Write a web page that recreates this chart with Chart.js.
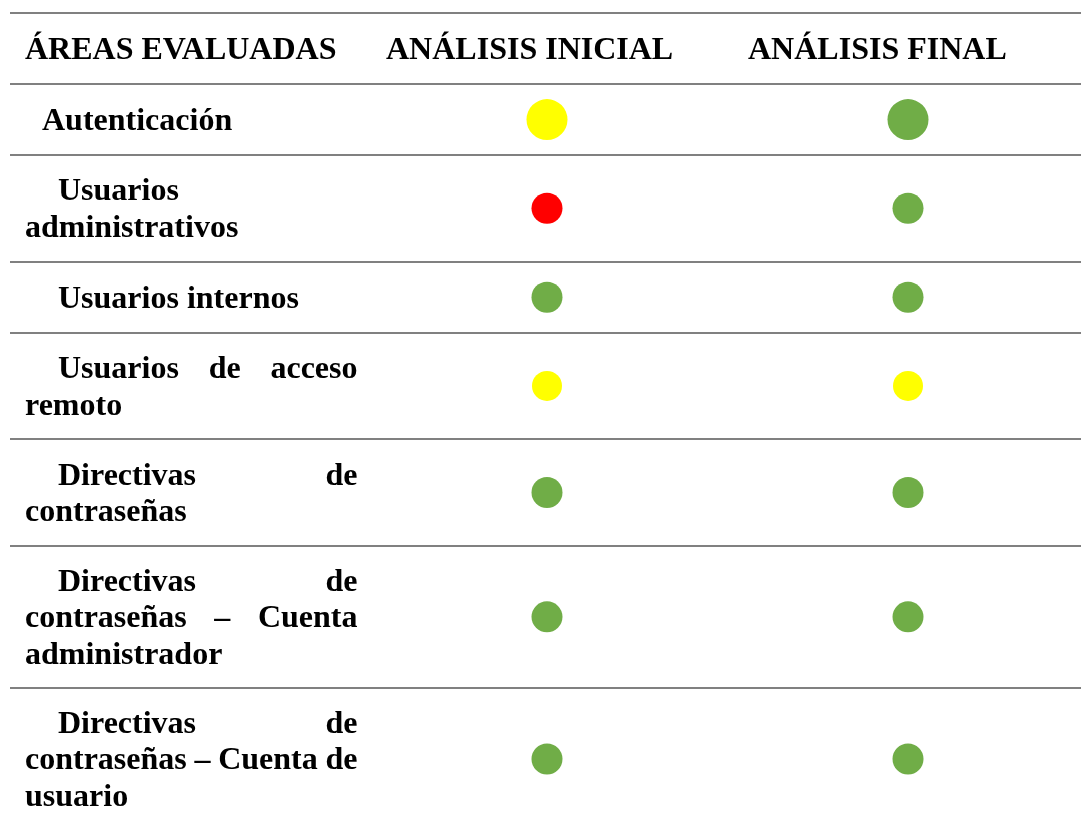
<!DOCTYPE html>
<html>
<head>
<meta charset="utf-8">
<script src="https://cdn.jsdelivr.net/npm/chart.js@4/dist/chart.umd.min.js"></script>
<style>
  html, body { margin: 0; padding: 0; background: #ffffff; overflow: hidden; }
  #wrap { position: relative; width: 1081px; height: 830px; }
</style>
</head>
<body>
<div id="wrap"><canvas id="c"></canvas></div>
<script>
// ---- data ----
const headerArea = 'ÁREAS EVALUADAS';
const columns = ['ANÁLISIS INICIAL', 'ANÁLISIS FINAL'];
const areas = [
  'Autenticación',
  'Usuarios administrativos',
  'Usuarios internos',
  'Usuarios de acceso remoto',
  'Directivas de contraseñas',
  'Directivas de contraseñas – Cuenta administrador',
  'Directivas de contraseñas – Cuenta de usuario'
];
const analisisInicial = ['amarillo', 'rojo', 'verde', 'amarillo', 'verde', 'verde', 'verde'];
const analisisFinal   = ['verde', 'verde', 'verde', 'amarillo', 'verde', 'verde', 'verde'];
const statusColors = { verde: '#70AD47', amarillo: '#FFFF00', rojo: '#FF0000' };

// ---- layout / style ----
const FONT = 'bold 32px "Liberation Serif", "Times New Roman", serif';
const COL_LEFT = 25, COL_RIGHT = 357.5;
const firstIndent = [17, 33, 33, 33, 33, 33, 33];
const pointRadii = [20.5, 15.5, 15.5, 15, 15.5, 15.5, 15.5];
const LINE_H = 36.8;

const mc = document.createElement('canvas').getContext('2d');
mc.font = FONT;
function wrap(text, indent) {
  const words = text.split(' ');
  const lines = [];
  let cur = [];
  let avail = COL_RIGHT - COL_LEFT - indent + 1.5;
  for (const w of words) {
    const test = cur.concat(w).join(' ');
    if (cur.length && mc.measureText(test).width > avail) {
      lines.push(cur);
      cur = [w];
      avail = COL_RIGHT - COL_LEFT + 1.5;
    } else {
      cur.push(w);
    }
  }
  lines.push(cur);
  return lines;
}
const wrapped = areas.map((a, i) => wrap(a, firstIndent[i]));
const rowUnits = [2].concat(wrapped.map(l => l.length + 1));
const bounds = [0];
rowUnits.forEach(u => bounds.push(bounds[bounds.length - 1] + u));
const centers = rowUnits.map((u, i) => bounds[i] + u / 2);

const tablePlugin = {
  id: 'tableText',
  afterDraw(chart) {
    const ctx = chart.ctx, ys = chart.scales.y;
    ctx.save();
    ctx.font = FONT;
    ctx.fillStyle = '#000000';
    ctx.textBaseline = 'alphabetic';
    ctx.textAlign = 'left';
    const hy = ys.getPixelForValue(centers[0]) + 10.5;
    ctx.fillText(headerArea, 25, hy);
    ctx.fillText(columns[0], 386, hy);
    ctx.fillText(columns[1], 748, hy);
    wrapped.forEach((lines, i) => {
      const cy = ys.getPixelForValue(centers[i + 1]);
      lines.forEach((words, j) => {
        const y = cy + (j - (lines.length - 1) / 2) * LINE_H + 10.5;
        const x0 = COL_LEFT + (j === 0 ? firstIndent[i] : 0);
        const last = j === lines.length - 1;
        if (last || words.length < 2) {
          ctx.fillText(words.join(' '), x0, y);
          return;
        }
        const ws = words.map(w => ctx.measureText(w).width);
        const total = ws.reduce((a, b) => a + b, 0);
        const gap = (COL_RIGHT - x0 - total) / (words.length - 1);
        let x = x0;
        words.forEach((w, k) => { ctx.fillText(w, x, y); x += ws[k] + gap; });
      });
    });
    ctx.restore();
  }
};

new Chart(document.getElementById('c'), {
  type: 'scatter',
  data: {
    datasets: columns.map((col, c) => ({
      label: col,
      data: areas.map((a, i) => ({ x: c, y: centers[i + 1] })),
      pointBackgroundColor: (c === 0 ? analisisInicial : analisisFinal).map(s => statusColors[s]),
      pointBorderWidth: 0,
      pointRadius: pointRadii,
      pointHoverRadius: pointRadii,
      clip: false
    }))
  },
  options: {
    responsive: true,
    maintainAspectRatio: false,
    animation: false,
    layout: { autoPadding: false, padding: { top: 13, left: 10, right: 0, bottom: 0 } },
    plugins: { legend: { display: false }, tooltip: { enabled: false } },
    scales: {
      x: { type: 'linear', min: -1.4875, max: 1.4792, display: false },
      y: {
        type: 'linear', reverse: true, min: 0, max: bounds[bounds.length - 1],
        ticks: { display: false },
        grid: { color: '#808080', lineWidth: 2, drawTicks: false },
        border: { display: false },
        afterBuildTicks: s => { s.ticks = bounds.map(v => ({ value: v })); }
      }
    }
  },
  plugins: [tablePlugin]
});
</script>
</body>
</html>
